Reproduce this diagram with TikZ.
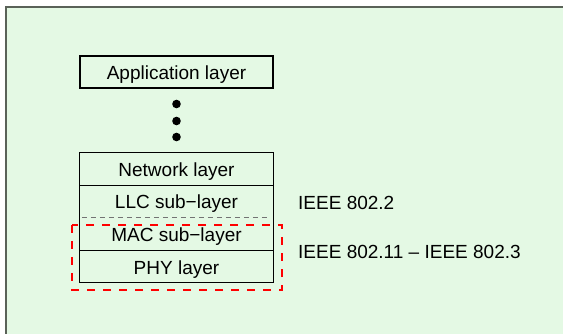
\documentclass[tikz,border=0pt]{standalone}
\usepackage{fontspec}
\setmainfont{Liberation Sans}
\definecolor{panelgreen}{HTML}{E4F9E4}
\definecolor{panelframe}{HTML}{5A6258}
\tikzset{
  layer/.style={rectangle, minimum width=193pt, minimum height=32pt, inner sep=0pt,
                text height=16pt, text depth=0pt,
                font=\fontsize{19}{22}\selectfont},
  framed/.style={layer, draw=black, line width=1.2pt},
  stackline/.style={draw=black, line width=1.2pt},
  dot/.style={circle, fill=black, inner sep=0pt, minimum size=8.6pt},
  std/.style={anchor=west, inner sep=0pt, font=\fontsize{19}{22}\selectfont},
  sublayer/.style={draw=black!55, line width=1pt, dash pattern=on 5pt off 4pt},
  ieeezone/.style={draw=red, line width=1.6pt, dash pattern=on 8pt off 8pt}
}
\begin{document}
\begin{tikzpicture}[x=1pt,y=-1pt]
  \useasboundingbox (0,0) rectangle (563,334);
  % panel
  \fill[panelgreen] (6,7) rectangle (580,350);
  \draw[panelframe, line width=1.6pt] (6,350) -- (6,7) -- (580,7);

  % top of the stack
  \node[framed] (app) at (176.5,72) {Application layer};
  \node[dot] (d1) at (176.5,104) {};
  \node[dot] (d2) at (176.5,121) {};
  \node[dot] (d3) at (176.5,137) {};

  % lower layers
  \node[layer] (net) at (176.5,169) {Network layer};
  \node[layer] (llc) at (176.5,201) {LLC sub−layer};
  \node[layer, minimum height=33pt] (mac) at (176.5,233.5) {MAC sub−layer};
  \node[layer] (phy) at (176.5,266) {PHY layer};

  \draw[stackline] (net.north west) rectangle (phy.south east);
  \draw[stackline] (net.south west) -- (net.south east);
  \draw[stackline] (mac.south west) -- (mac.south east);
  \draw[sublayer] ([xshift=2pt]llc.south west) -- ([xshift=-6pt]llc.south east);

  % dashed frame round MAC and PHY
  \coordinate (zonenw) at (72,225);
  \coordinate (zonese) at (282,290);
  \draw[ieeezone] (zonenw) rectangle (zonese);

  % standards
  \node[std] (s1) at (298,203) {IEEE 802.2};
  \node[std] (s2) at (298,252) {IEEE 802.11 – IEEE 802.3};
\end{tikzpicture}
\end{document}
